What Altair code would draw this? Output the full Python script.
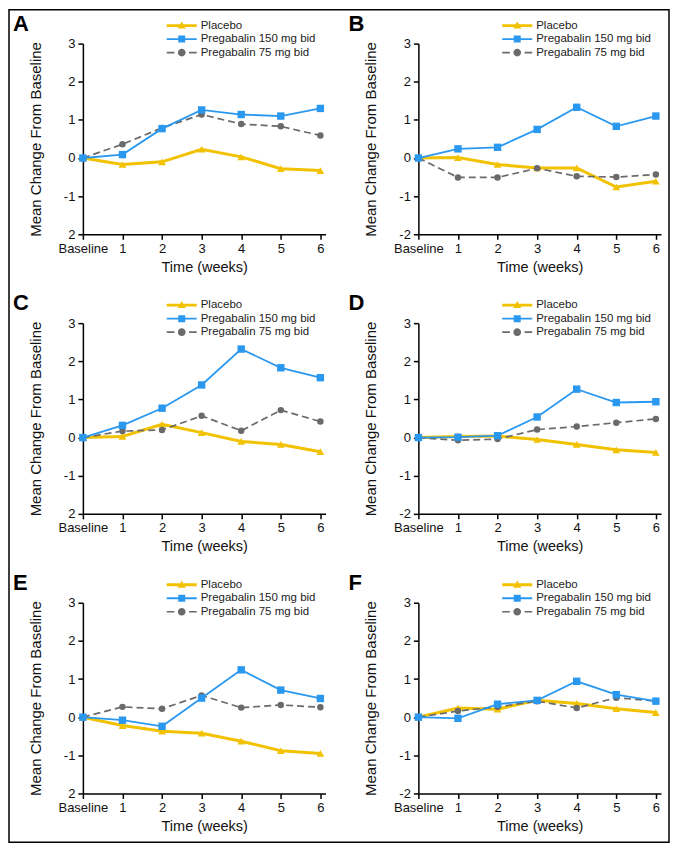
import altair as alt
import pandas as pd

weeks = [0, 1, 2, 3, 4, 5, 6]
series_names = ["Placebo", "Pregabalin 150 mg bid", "Pregabalin 75 mg bid"]
y_ticks = [-2, -1, 0, 1, 2, 3]

placebo_A = [0, -0.17, -0.10, 0.23, 0.03, -0.28, -0.33]
p150_A = [0, 0.09, 0.77, 1.26, 1.14, 1.10, 1.30]
p75_A = [0, 0.36, 0.79, 1.14, 0.89, 0.83, 0.59]

placebo_B = [0, 0.01, -0.17, -0.26, -0.26, -0.76, -0.61]
p150_B = [0, 0.24, 0.28, 0.75, 1.33, 0.83, 1.10]
p75_B = [0, -0.51, -0.51, -0.27, -0.48, -0.50, -0.43]

placebo_C = [0, 0.03, 0.35, 0.13, -0.10, -0.18, -0.37]
p150_C = [0, 0.32, 0.77, 1.38, 2.32, 1.83, 1.57]
p75_C = [0, 0.17, 0.20, 0.57, 0.18, 0.72, 0.42]

placebo_D = [0, 0.03, 0.04, -0.05, -0.18, -0.32, -0.39]
p150_D = [0, 0.01, 0.05, 0.54, 1.27, 0.92, 0.94]
p75_D = [0, -0.07, -0.04, 0.21, 0.29, 0.39, 0.49]

placebo_E = [0, -0.22, -0.37, -0.42, -0.63, -0.88, -0.95]
p150_E = [0, -0.08, -0.24, 0.50, 1.24, 0.71, 0.49]
p75_E = [0, 0.27, 0.22, 0.57, 0.25, 0.32, 0.26]

placebo_F = [0, 0.24, 0.21, 0.44, 0.36, 0.22, 0.12]
p150_F = [0, -0.03, 0.34, 0.44, 0.94, 0.59, 0.42]
p75_F = [0, 0.16, 0.27, 0.42, 0.24, 0.51, 0.42]

COLORS = ["#F2C100", "#2B98F0", "#6A6A6A"]
FONT = "Liberation Sans"

# legend symbols: line with a marker in the middle (unit = 7 px at size 196)
LEGEND_PATHS = [
    "M-2.15,-0.2H2.15V0.2H-2.15Z M0,-0.6L0.58,0.42L-0.58,0.42Z",
    "M-2.15,-0.13H2.15V0.13H-2.15Z M-0.5,-0.5H0.5V0.5H-0.5Z",
    "M-2.15,-0.12H-1.05V0.12H-2.15Z M1.05,-0.12H2.15V0.12H1.05Z "
    "M0.55,0A0.55,0.55,0,1,1,-0.55,0A0.55,0.55,0,1,1,0.55,0Z",
]

STYLES = [
    # series, color, line width, dash, shape, size
    ("Placebo", COLORS[0], 3.0, None, "triangle-up", 60),
    ("Pregabalin 75 mg bid", COLORS[2], 1.7, [7, 4], "circle", 42),
    ("Pregabalin 150 mg bid", COLORS[1], 1.8, None, "square", 55),
]

W, H = 243, 191


def panel(letter, plc, p150, p75, left_col, frame=False):
    df = pd.DataFrame({
        "week": weeks * 3,
        "value": plc + p150 + p75,
        "series": [s for s in series_names for _ in weeks],
    })
    if left_col:
        ylab = "datum.value == -2 ? '2' : (datum.value < 0 ? '-' + abs(datum.value) : datum.label)"
    else:
        ylab = "datum.value < 0 ? '-' + abs(datum.value) : datum.label"
    x = alt.X("week:Q",
              scale=alt.Scale(domain=[0, 6.13], nice=False, zero=False),
              axis=alt.Axis(values=weeks, title="Time (weeks)",
                            labelExpr="datum.value == 0 ? 'Baseline' : datum.label",
                            labelFlush=False, labelOverlap=False, titleFontSize=14.5,
                            titlePadding=5, labelPadding=3))
    y = alt.Y("value:Q",
              scale=alt.Scale(domain=[-2, 3], nice=False, zero=False),
              axis=alt.Axis(values=y_ticks, title="Mean Change From Baseline",
                            labelExpr=ylab, titlePadding=20, labelPadding=3))
    base = alt.Chart(df).encode(x=x, y=y)
    layers = []
    for s, color, sw, dash, shape, size in STYLES:
        sub = base.transform_filter(alt.datum.series == s)
        kw = dict(color=color, strokeWidth=sw)
        if dash:
            kw["strokeDash"] = dash
        layers.append(sub.mark_line(**kw))
        layers.append(sub.mark_point(shape=shape, filled=True, color=color,
                                     size=size, opacity=1))
    leg_def = alt.Legend(orient="none", legendX=92, legendY=-25, title=None,
                         symbolSize=196, symbolStrokeWidth=0, symbolOpacity=1,
                         labelFont=FONT, labelFontSize=11.5, labelColor="#222222",
                         labelOffset=12, rowPadding=0.5, padding=0)
    legend_layer = alt.Chart(pd.DataFrame({"series": series_names})).mark_point(
        filled=True, opacity=0, size=196).encode(
        color=alt.Color("series:N", scale=alt.Scale(domain=series_names, range=COLORS),
                        sort=series_names, legend=leg_def),
        shape=alt.Shape("series:N", scale=alt.Scale(domain=series_names, range=LEGEND_PATHS),
                        sort=series_names, legend=leg_def),
    )
    layers.append(legend_layer)
    letter_layer = alt.Chart(alt.Data(values=[{}])).mark_text(
        text=letter, font=FONT, fontSize=22, fontWeight="bold", align="left",
        baseline="alphabetic", color="black").encode(x=alt.value(-70), y=alt.value(-13))
    layers.append(letter_layer)
    if frame:
        frame_layer = alt.Chart(alt.Data(values=[{}])).mark_rect(
            fillOpacity=0, stroke="black", strokeWidth=1.5).encode(
            x=alt.value(-74), x2=alt.value(587), y=alt.value(-34), y2=alt.value(800))
        layers.append(frame_layer)
    return alt.layer(*layers).properties(width=W, height=H)


charts = [
    panel("A", placebo_A, p150_A, p75_A, True, frame=True),
    panel("B", placebo_B, p150_B, p75_B, False),
    panel("C", placebo_C, p150_C, p75_C, True),
    panel("D", placebo_D, p150_D, p75_D, False),
    panel("E", placebo_E, p150_E, p75_E, True),
    panel("F", placebo_F, p150_F, p75_F, False),
]

chart = alt.concat(*charts, columns=2, spacing={"row": 89, "column": 93},
                   bounds="flush").resolve_scale(
    color="independent", shape="independent").resolve_legend(
    color="independent", shape="independent").properties(padding=0).configure_view(
    strokeWidth=0).configure_axis(
    grid=False, domainColor="black", domainWidth=1.5, tickColor="black",
    tickWidth=1.5, tickSize=5, labelFont=FONT, labelFontSize=13,
    labelColor="#111111", titleFont=FONT, titleFontSize=15,
    titleFontWeight="normal", titleColor="#111111")

chart.save("out.html", embed_options={"renderer": "svg", "actions": False})
